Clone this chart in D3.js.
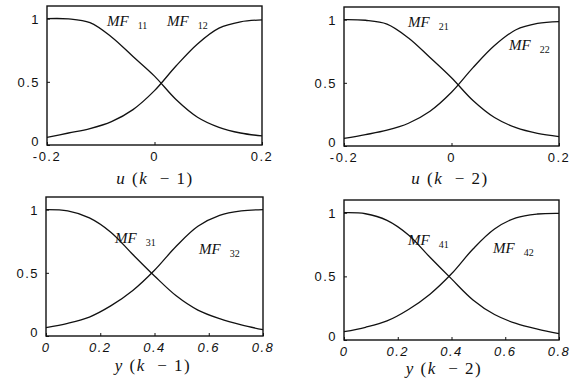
<!DOCTYPE html>
<html>
<head>
<meta charset="utf-8">
<script src="https://cdn.jsdelivr.net/npm/d3@7"></script>
<style>
  body { margin: 0; background: #fff; }
  svg { display: block; }
  .tick-label { font-family: "Liberation Sans", Arial, sans-serif; font-size: 13px; letter-spacing: 1.5px; fill: #111; }
  .mf { font-family: "Liberation Serif", "Times New Roman", serif; font-style: italic; font-size: 15px; fill: #111; }
  .mf .sub { font-style: normal; font-size: 10px; }
  .xlab { font-family: "Liberation Serif", "Times New Roman", serif; font-size: 17px; fill: #111; }
</style>
</head>
<body>
<svg id="chart"></svg>
<script>
const width = 576, height = 378

// input grids
const u_grid = [-0.2, -0.16, -0.12, -0.08, -0.04, 0, 0.04, 0.08, 0.12, 0.16, 0.2]
const y_grid = [0, 0.08, 0.16, 0.24, 0.32, 0.4, 0.48, 0.56, 0.64, 0.72, 0.8]

// membership values
const mf11 = [1.0, 0.998, 0.968, 0.855, 0.7, 0.545, 0.36, 0.22, 0.14, 0.095, 0.072]
const mf12 = [0.06, 0.095, 0.13, 0.185, 0.28, 0.43, 0.625, 0.8, 0.925, 0.975, 0.99]
const mf21 = [1.0, 0.995, 0.965, 0.855, 0.7, 0.54, 0.36, 0.225, 0.145, 0.1, 0.075]
const mf22 = [0.06, 0.09, 0.125, 0.18, 0.275, 0.425, 0.62, 0.795, 0.92, 0.97, 0.985]
const mf31 = [1.0, 0.99, 0.935, 0.82, 0.645, 0.475, 0.318, 0.205, 0.137, 0.088, 0.05]
const mf32 = [0.066, 0.1, 0.15, 0.24, 0.36, 0.52, 0.71, 0.868, 0.955, 0.99, 1.0]
const mf41 = [1.0, 0.992, 0.94, 0.825, 0.65, 0.48, 0.315, 0.2, 0.13, 0.085, 0.05]
const mf42 = [0.065, 0.1, 0.15, 0.24, 0.36, 0.52, 0.715, 0.872, 0.96, 0.99, 0.995]

const u_ticks = [-0.2, 0, 0.2]
const y_ticks = [0, 0.2, 0.4, 0.6, 0.8]
const mf_ticks = [0, 0.5, 1]

const x_names = ["u", "u", "y", "y"]
const x_lags = [1, 2, 1, 2]
const mf_names = [["11", "12"], ["21", "22"], ["31", "32"], ["41", "42"]]

// layout of each panel (pixel box) and where the MF labels sit
const panels = [
    { box: [47, 6, 262, 145], grid: u_grid, ticks: u_ticks, series: [mf11, mf12], italicTicks: false,
      labels: [[107, 26], [167, 26]], xlab: [155, 184] },
    { box: [344, 7, 559, 146], grid: u_grid, ticks: u_ticks, series: [mf21, mf22], italicTicks: false,
      labels: [[408, 27], [509, 50]], xlab: [450, 184] },
    { box: [46, 197, 263, 336], grid: y_grid, ticks: y_ticks, series: [mf31, mf32], italicTicks: true,
      labels: [[115, 243], [199, 254]], xlab: [153, 371] },
    { box: [344, 200, 559, 340], grid: y_grid, ticks: y_ticks, series: [mf41, mf42], italicTicks: true,
      labels: [[408, 245], [493, 253]], xlab: [444, 374] }
]

const svg = d3.select("#chart").attr("width", width).attr("height", height)

panels.forEach((p, i) => {
    const [x0, y0, x1, y1] = p.box
    const x = d3.scaleLinear().domain(d3.extent(p.grid)).range([x0, x1])
    const y = d3.scaleLinear().domain([0, 1.1]).range([y1, y0])
    const g = svg.append("g").attr("class", "panel")

    // curves
    const line = d3.line().x(d => x(d[0])).y(d => y(d[1])).curve(d3.curveCatmullRom.alpha(0.5))
    p.series.forEach(vals => {
        g.append("path")
            .datum(p.grid.map((v, k) => [v, vals[k]]))
            .attr("d", line)
            .attr("fill", "none")
            .attr("stroke", "#111")
            .attr("stroke-width", 1.3)
    })

    // frame
    g.append("rect")
        .attr("x", x0).attr("y", y0)
        .attr("width", x1 - x0).attr("height", y1 - y0)
        .attr("fill", "none").attr("stroke", "#111").attr("stroke-width", 1.4)

    // inward ticks
    const xAxis = d3.axisBottom(x).tickValues(p.ticks).tickSize(-3).tickFormat("")
    const yAxis = d3.axisLeft(y).tickValues(mf_ticks).tickSize(-3).tickFormat("")
    g.append("g").attr("transform", `translate(0,${y1})`).call(xAxis)
    g.append("g").attr("transform", `translate(${x0},0)`).call(yAxis)
    g.selectAll(".domain").remove()
    g.selectAll(".tick line").attr("stroke", "#111")

    // tick labels
    g.selectAll(".xt").data(p.ticks).enter().append("text")
        .attr("class", "tick-label")
        .attr("x", d => x(d))
        .attr("y", y1 + 16)
        .attr("text-anchor", "middle")
        .style("font-style", p.italicTicks ? "italic" : "normal")
        .text(d => String(d))
    g.selectAll(".yt").data(mf_ticks).enter().append("text")
        .attr("class", "tick-label")
        .attr("x", x0 - 7)
        .attr("y", d => y(d) + (d === 0 ? 1 : 5))
        .attr("text-anchor", "end")
        .text(d => d)

    // MF labels
    p.labels.forEach((l, k) => {
        const t = g.append("text").attr("class", "mf").attr("x", l[0]).attr("y", l[1])
        t.append("tspan").text("MF")
        t.append("tspan").attr("class", "sub").attr("dx", 9).attr("dy", 3).text(mf_names[i][k])
    })

    // x label
    const xl = g.append("text").attr("class", "xlab")
        .attr("x", p.xlab[0]).attr("y", p.xlab[1])
        .attr("text-anchor", "middle")
        .style("letter-spacing", "1.5px")
        .attr("xml:space", "preserve")
    xl.append("tspan").style("font-style", "italic").text(x_names[i])
    xl.append("tspan").text(" (")
    xl.append("tspan").style("font-style", "italic").text("k")
    xl.append("tspan").text("  − " + x_lags[i] + ")")
})
</script>
</body>
</html>
